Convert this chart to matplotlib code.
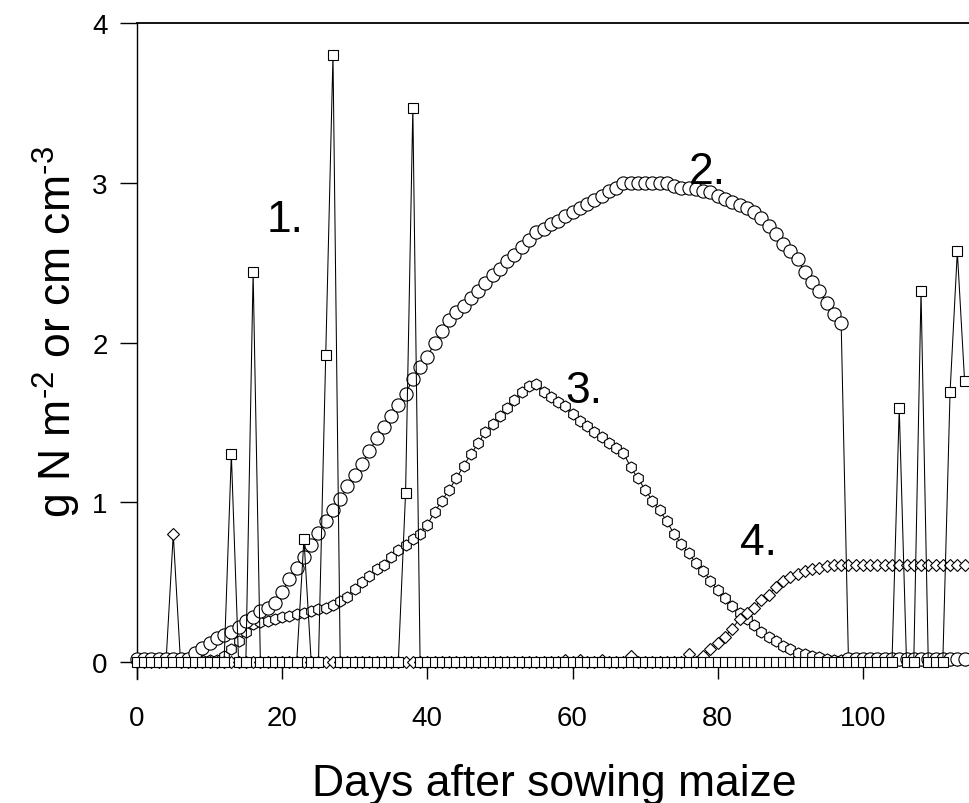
import numpy as np
import matplotlib
matplotlib.use("Agg")
import matplotlib.pyplot as plt

plt.rcParams['font.family'] = ['Liberation Sans', 'DejaVu Sans']
plt.rcParams['mathtext.fontset'] = 'custom'
plt.rcParams['mathtext.rm'] = 'Liberation Sans'
plt.rcParams['mathtext.default'] = 'regular'

# days after sowing, one value per day
days = list(range(0, 115))

# 1. spikes (squares)
series1 = [
    0, 0, 0, 0, 0, 0, 0, 0, 0, 0,
    0, 0, 0, 1.30, 0, 0, 2.44, 0, 0, 0,
    0, 0, 0, 0.77, 0, 0, 1.92, 3.80, 0, 0,
    0, 0, 0, 0, 0, 0, 0, 1.06, 3.47, 0,
    0, 0, 0, 0, 0, 0, 0, 0, 0, 0,
    0, 0, 0, 0, 0, 0, 0, 0, 0, 0,
    0, 0, 0, 0, 0, 0, 0, 0, 0, 0,
    0, 0, 0, 0, 0, 0, 0, 0, 0, 0,
    0, 0, 0, 0, 0, 0, 0, 0, 0, 0,
    0, 0, 0, 0, 0, 0, 0, 0, 0, 0,
    0, 0, 0, 0, 0, 1.59, 0, 0, 2.32, 0,
    0, 0, 1.69, 2.57, 1.76,
]

# 2. circles
series2 = [
    0.02, 0.02, 0.02, 0.02, 0.02, 0.02, 0.02, 0.02, 0.06, 0.09,
    0.12, 0.15, 0.17, 0.19, 0.22, 0.26, 0.28, 0.32, 0.34, 0.37,
    0.44, 0.52, 0.59, 0.66, 0.73, 0.81, 0.88, 0.95, 1.02, 1.10,
    1.17, 1.24, 1.32, 1.40, 1.47, 1.54, 1.61, 1.68, 1.77, 1.85,
    1.91, 2.00, 2.07, 2.14, 2.19, 2.23, 2.28, 2.32, 2.37, 2.42,
    2.46, 2.51, 2.55, 2.60, 2.64, 2.69, 2.71, 2.74, 2.76, 2.79,
    2.82, 2.84, 2.87, 2.89, 2.92, 2.95, 2.97, 3.00, 3.00, 3.00,
    3.00, 3.00, 3.00, 3.00, 2.98, 2.97, 2.97, 2.96, 2.95, 2.94,
    2.92, 2.90, 2.88, 2.86, 2.84, 2.82, 2.78, 2.73, 2.68, 2.62,
    2.57, 2.52, 2.44, 2.38, 2.32, 2.25, 2.18, 2.12, 0.02, 0.02,
    0.02, 0.02, 0.02, 0.02, 0.02, 0.02, 0.02, 0.02, 0.02, 0.02,
    0.02, 0.02, 0.02, 0.02, 0.02,
]

# 3. hexagons
series3 = [
    0.01, 0.01, 0.01, 0.01, 0.01, 0.01, 0.01, 0.01, 0.01, 0.01,
    0.01, 0.01, 0.04, 0.08, 0.13, 0.19, 0.24, 0.25, 0.26, 0.27,
    0.28, 0.29, 0.30, 0.31, 0.32, 0.33, 0.34, 0.36, 0.38, 0.41,
    0.46, 0.50, 0.54, 0.58, 0.61, 0.66, 0.70, 0.73, 0.77, 0.80,
    0.86, 0.94, 1.01, 1.08, 1.15, 1.23, 1.30, 1.37, 1.44, 1.49,
    1.54, 1.59, 1.64, 1.69, 1.73, 1.74, 1.69, 1.66, 1.63, 1.60,
    1.55, 1.51, 1.48, 1.44, 1.41, 1.37, 1.34, 1.31, 1.22, 1.15,
    1.08, 1.01, 0.95, 0.88, 0.80, 0.74, 0.68, 0.62, 0.57, 0.51,
    0.45, 0.40, 0.35, 0.31, 0.27, 0.23, 0.19, 0.16, 0.13, 0.10,
    0.08, 0.06, 0.05, 0.04, 0.03, 0.02, 0.01, 0.01, 0.01, 0.01,
    0.01, 0.01, 0.01, 0.01, 0.01, 0.01, 0.01, 0.01, 0.01, 0.01,
    0.01, 0.01, 0.01, 0.01, 0.01,
]

# 4. diamonds
series4 = [
    0, 0, 0, 0, 0, 0.80, 0, 0, 0, 0,
    0, 0, 0, 0, 0, 0, 0, 0, 0, 0,
    0, 0, 0, 0, 0, 0, 0, 0, 0, 0,
    0, 0, 0, 0, 0, 0, 0, 0, 0, 0,
    0, 0, 0, 0, 0, 0, 0, 0, 0, 0,
    0, 0, 0, 0, 0, 0, 0, 0, 0, 0.01,
    0, 0.01, 0, 0, 0.01, 0, 0, 0, 0.04, 0,
    0, 0, 0, 0, 0, 0, 0.05, 0, 0.04, 0.08,
    0.12, 0.16, 0.21, 0.27, 0.31, 0.34, 0.39, 0.42, 0.47, 0.51,
    0.53, 0.55, 0.57, 0.58, 0.59, 0.60, 0.61, 0.61, 0.61, 0.61,
    0.61, 0.61, 0.61, 0.61, 0.61, 0.61, 0.61, 0.61, 0.61, 0.61,
    0.61, 0.61, 0.61, 0.61, 0.61,
]

curve_labels = ["1.", "2.", "3.", "4."]
label_x = [17.9, 76.0, 59.0, 83.0]
label_y = [2.70, 3.00, 1.63, 0.676]

fig = plt.figure(figsize=(9.7, 8.04), dpi=100)
ax = fig.add_axes([0.1412, 0.1542, 0.8607, 0.8159])

style = dict(color='black', linewidth=0.75, markerfacecolor='white',
             markeredgecolor='black', markeredgewidth=0.8, clip_on=False)
ax.plot(days, series3, marker='h', markersize=8, zorder=3.0, **style)
ax.plot(days, series4, marker='D', markersize=6.5, zorder=3.1, **style)
ax.plot(days, series2, marker='o', markersize=9.5, zorder=3.2, **style)
ax.plot(days, series1, marker='s', markersize=7.5, zorder=3.3, **style)

for txt, tx, ty in zip(curve_labels, label_x, label_y):
    ax.text(tx, ty, txt, fontsize=32, ha='left', va='baseline', zorder=4)

ax.set_xlim(0, 115)
ax.set_ylim(-0.106, 4)
ax.set_xticks([0, 20, 40, 60, 80, 100])
ax.set_yticks([0, 1, 2, 3, 4])

ax.spines['bottom'].set_visible(False)
ax.spines['right'].set_visible(False)
ax.spines['left'].set_linewidth(1.0)
ax.spines['top'].set_linewidth(1.3)

ax.tick_params(axis='y', direction='out', length=12.2, width=1.0, pad=9, labelsize=20)
ax.tick_params(axis='x', direction='in', length=12, width=1.0, pad=19, labelsize=20)

ax.set_xlabel("Days after sowing maize", fontsize=32, labelpad=23)
ax.set_ylabel(r"g N m$^{\text{-}2}$ or cm cm$^{\text{-}3}$", fontsize=32)
ax.yaxis.set_label_coords(-0.065, 0.53)

fig.savefig("out.png", dpi=100)
